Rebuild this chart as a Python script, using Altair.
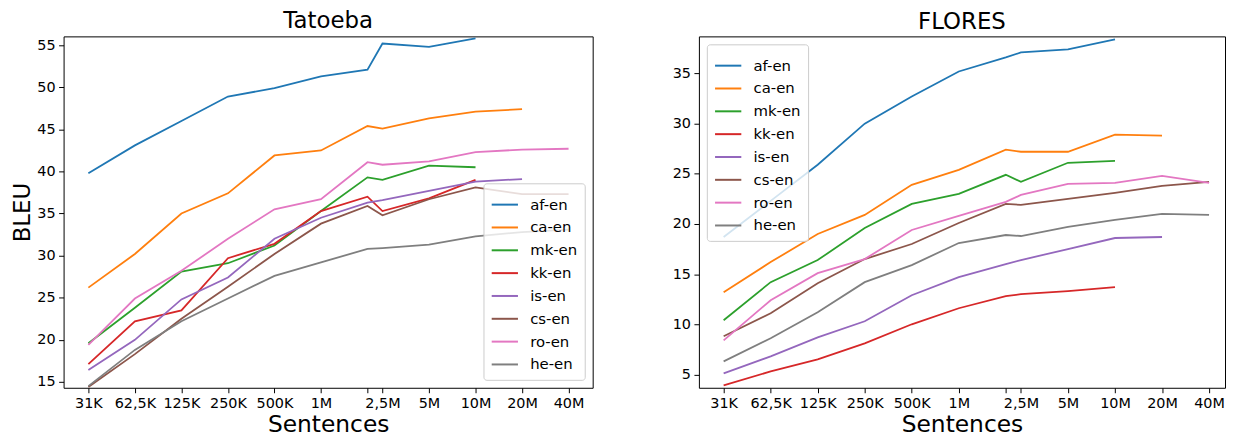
import altair as alt
import pandas as pd

# x positions (number of sentences) and their tick labels
sizes = [31250, 62500, 125000, 250000, 500000, 1000000, 2000000, 2500000,
         5000000, 10000000, 20000000, 40000000]
tick_labels = ["31K", "62,5K", "125K", "250K", "500K", "1M", "", "2,5M",
               "5M", "10M", "20M", "40M"]

pairs = ["af-en", "ca-en", "mk-en", "kk-en", "is-en", "cs-en", "ro-en", "he-en"]
colors = ["#1f77b4", "#ff7f0e", "#2ca02c", "#d62728", "#9467bd", "#8c564b",
          "#e377c2", "#7f7f7f"]

# Tatoeba BLEU
tat_af = [39.8, 43.1, 46.0, 48.9, 49.9, 51.3, 52.1, 55.2, 54.8, 55.8, None, None]
tat_ca = [26.2, 30.2, 35.0, 37.4, 41.9, 42.5, 45.4, 45.1, 46.3, 47.1, 47.4, None]
tat_mk = [19.6, 23.8, 28.1, 29.1, 31.2, 35.3, 39.3, 39.0, 40.7, 40.5, None, None]
tat_kk = [17.1, 22.2, 23.5, 29.7, 31.4, 35.3, 37.0, 35.3, 36.8, 39.0, None, None]
tat_is = [16.4, 20.0, 24.8, 27.4, 32.0, 34.5, 36.3, 36.6, 37.7, 38.8, 39.1, None]
tat_cs = [14.4, 18.3, 22.5, 26.3, 30.2, 33.8, 35.9, 34.8, 36.7, 38.1, 37.3, 37.3]
tat_ro = [19.4, 24.9, 28.2, 32.0, 35.5, 36.7, 41.1, 40.8, 41.2, 42.3, 42.6, 42.7]
tat_he = [14.5, 18.8, 22.2, 24.9, 27.6, 29.2, 30.8, 30.9, 31.3, 32.3, 32.8, 33.1]

# FLORES BLEU
flo_af = [18.7, 22.3, 25.9, 30.0, 32.7, 35.2, 36.6, 37.1, 37.4, 38.4, None, None]
flo_ca = [13.2, 16.2, 19.0, 20.9, 23.9, 25.4, 27.4, 27.2, 27.2, 28.9, 28.8, None]
flo_mk = [10.4, 14.2, 16.4, 19.6, 22.0, 23.0, 24.9, 24.2, 26.1, 26.3, None, None]
flo_kk = [3.9, 5.3, 6.5, 8.1, 10.0, 11.6, 12.8, 13.0, 13.3, 13.7, None, None]
flo_is = [5.1, 6.8, 8.7, 10.3, 12.9, 14.7, 16.0, 16.4, 17.5, 18.6, 18.7, None]
flo_cs = [8.8, 11.1, 14.1, 16.5, 18.0, 20.1, 22.0, 21.9, 22.5, 23.1, 23.8, 24.2]
flo_ro = [8.4, 12.4, 15.1, 16.5, 19.4, 20.8, 22.2, 22.9, 24.0, 24.1, 24.8, 24.1]
flo_he = [6.3, 8.6, 11.2, 14.2, 15.9, 18.1, 18.9, 18.8, 19.7, 20.4, 21.0, 20.9]

tat_series = [tat_af, tat_ca, tat_mk, tat_kk, tat_is, tat_cs, tat_ro, tat_he]
flo_series = [flo_af, flo_ca, flo_mk, flo_kk, flo_is, flo_cs, flo_ro, flo_he]


def to_long(series):
    rows = []
    for p, vals in zip(pairs, series):
        for s, v in zip(sizes, vals):
            if v is not None:
                rows.append({"pair": p, "sentences": s, "bleu": v})
    return pd.DataFrame(rows)


label_expr = ("[" + ",".join("'%s'" % l for l in tick_labels) + "][indexof(["
              + ",".join(str(s) for s in sizes) + "], datum.value)]")

FONT = "DejaVu Sans"


def panel(df, title, xdom, ydom, yticks, ytitle, legend_orient, width):
    color = alt.Color(
        "pair:N",
        scale=alt.Scale(domain=pairs, range=colors),
        legend=alt.Legend(
            title=None, orient=legend_orient, offset=8,
            symbolType="stroke", symbolSize=700, symbolStrokeWidth=2,
            labelFontSize=15, labelFont=FONT, labelColor="black",
            labelOffset=11, rowPadding=0,
            fillColor="rgba(255,255,255,0.8)", strokeColor="#cccccc",
            cornerRadius=3, padding=7,
        ),
    )
    if ytitle:
        yaxis = alt.Axis(values=yticks, title=ytitle, titleFontSize=23,
                         titlePadding=2, titleFontWeight="normal",
                         titleFont=FONT, titleColor="black")
    else:
        yaxis = alt.Axis(values=yticks, title=None)
    return alt.Chart(df).mark_line(strokeWidth=1.8).encode(
        x=alt.X("sentences:Q",
                scale=alt.Scale(type="log", domain=xdom, nice=False),
                axis=alt.Axis(values=sizes, labelExpr=label_expr,
                              title="Sentences", titleFontSize=23.5,
                              titleFontWeight="normal", titleFont=FONT,
                              titleColor="black", titlePadding=3,
                              labelOverlap=False, labelFlush=False)),
        y=alt.Y("bleu:Q",
                scale=alt.Scale(domain=ydom, nice=False, zero=False),
                axis=yaxis),
        color=color,
    ).properties(
        width=width, height=354,
        title=alt.TitleParams(title, fontSize=23, fontWeight="normal",
                              font=FONT, color="black", offset=2),
    )


left = panel(to_long(tat_series), "Tatoeba", [21600, 57300000], [14.3, 56.05],
             [15, 20, 25, 30, 35, 40, 45, 50, 55], "BLEU", "bottom-right", 533)
right = panel(to_long(flo_series), "FLORES", [21700, 50600000], [3.67, 38.7],
              [5, 10, 15, 20, 25, 30, 35], None, "top-left", 530)

chart = alt.hconcat(left, right, spacing=78).resolve_legend(
    color="independent"
).configure(
    padding={"left": 3, "top": 0, "right": 0, "bottom": 0},
).configure_view(
    stroke="black", strokeWidth=1
).configure_axis(
    grid=False, domain=False, tickColor="black", tickSize=5,
    labelFont=FONT, labelFontSize=14.5, labelColor="black", labelPadding=3.5,
)

chart.save("out.html", embed_options={"renderer": "svg", "actions": False})
